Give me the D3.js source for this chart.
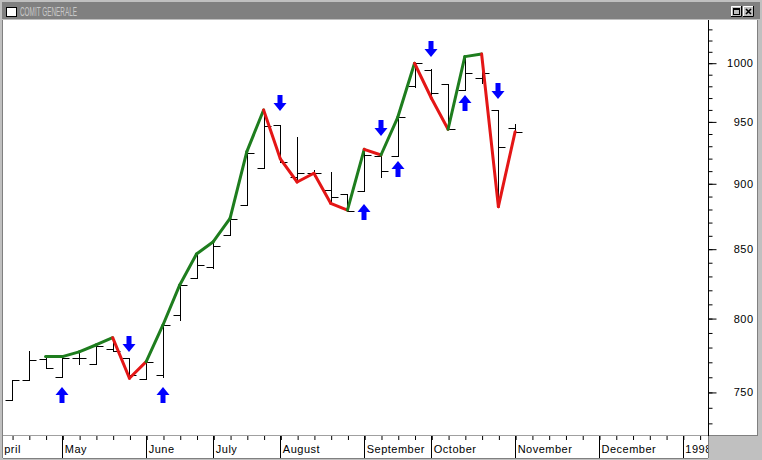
<!DOCTYPE html>
<html><head><meta charset="utf-8">
<script src="https://cdn.jsdelivr.net/npm/d3@7"></script>
<style>html,body{margin:0;padding:0;background:#c0c0c0;} svg{display:block;}</style>
</head><body><svg id="c" width="762" height="460"></svg>
<script>
// ---------- data ----------
const chartTitle = "COMIT GENERALE";
const opens  = [744.8,757.9,771.9,760.1,772.4,768.4,778.7,772.4,758.6,761.2,802.2,828.7,836.3,860.3,883.1,911.9,947.0,904.7,908.4,894.7,891.6,894.2,921.7,922.1,979.6,993.9,981.6,976.4,986.5,959.5,944.3];
const highs  = [757.9,777.5,773.5,773.5,776.7,781.4,786.4,772.4,770.1,795.2,823.5,846.1,855.2,872.9,925.2,959.5,947.0,937.4,910.5,909.2,891.6,927.1,922.5,953.4,999.5,994.3,981.6,1005.3,1008.8,959.5,947.6];
const lows   = [744.8,757.9,766.1,760.1,768.4,768.4,777.3,759.0,758.6,760.1,798.7,828.7,835.6,860.3,883.1,911.9,917.1,901.0,905.8,884.4,878.7,894.2,905.0,921.7,979.3,969.6,943.5,976.4,982.2,881.8,941.5];
const closes = [757.9,771.3,766.1,772.9,772.4,780.7,777.3,761.2,770.1,795.2,823.5,838.0,852.2,872.1,924.4,946.2,917.1,908.4,908.1,889.5,878.7,922.9,909.6,953.4,999.5,974.1,943.5,990.8,990.8,928.8,941.5];
const swingStart = 2;
const swing = [773.5,773.5,776.7,781.4,786.4,759.0,770.1,795.2,823.5,846.1,855.2,872.9,925.2,959.5,919.3,901.0,907.9,884.4,879.2,927.1,922.5,953.4,999.5,969.6,943.5,1005.3,1007.6,881.8,941.5];
// trend of the segment ending at swing point k (k >= 1)
const swingTrend = ["", "up","up","up","up","down","down","up","up","up","up","up","up","up","down","down","down","down","down","up","down","up","up","down","down","up","up","down","down"];
const arrowIdx = [3,9,21,23,27,7,16,22,25,29];
const arrowDir = ["up","up","up","up","up","down","down","down","down","down"];
const arrowVal = [753.3,753.3,883.9,917.9,972.2,776.7,958.9,938.0,1004.7,968.5];
const monthLabels = ["April","May","June","July","August","September","October","November","December","1998"];
const monthIdx = [-1,3,8,12,16,21,25,30,35,40];
const yMajor = [750,800,850,900,950,1000];
const yMinor = d3.range(730,1040,10);

// ---------- layout ----------
const svg = d3.select("#c");
const PL = 4, PR = 708, PT = 20, PB = 435;
const FONT = "Liberation Sans, Arial, sans-serif";
const x = d3.scaleLinear().domain([-0.48, 41.5]).range([PL, PR]);
const y = d3.scaleLog().domain([722.3, 1037.1]).range([PB, 21]);
const cx = i => Math.round(x(i)) + 0.5;
const cy = v => Math.round(y(v)) + 0.5;

// window chrome
svg.append("rect").attr("x",0).attr("y",0).attr("width",762).attr("height",460).attr("fill","#c0c0c0");
svg.append("rect").attr("x",2).attr("y",2).attr("width",758).attr("height",17).attr("fill","#808080");
svg.append("rect").attr("x",6.5).attr("y",7.5).attr("width",10).attr("height",9).attr("fill","#fff").attr("stroke","#000");
svg.append("text").attr("x",20).attr("y",16).attr("font-family",FONT)
  .attr("font-size",12).attr("fill","#c8c8c8").attr("textLength",57).attr("lengthAdjust","spacingAndGlyphs").text(chartTitle);
// buttons
[731,743].forEach((bx,k)=>{
  svg.append("rect").attr("x",bx).attr("y",6).attr("width",11).attr("height",11).attr("fill","#c0c0c0");
  svg.append("path").attr("d",`M${bx+0.5},${17}V6.5H${bx+11}`).attr("stroke","#fff").attr("fill","none");
  svg.append("path").attr("d",`M${bx},${16.5}H${bx+10.5}V6`).attr("stroke","#000").attr("fill","none");
  if(k===0){
    svg.append("rect").attr("x",bx+2.5).attr("y",8.5).attr("width",6).attr("height",6).attr("fill","none").attr("stroke","#000");
    svg.append("line").attr("x1",bx+2.5).attr("x2",bx+8.5).attr("y1",9.5).attr("y2",9.5).attr("stroke","#000");
  } else {
    svg.append("path").attr("d",`M${bx+3},9L${bx+8},14M${bx+8},9L${bx+3},14`).attr("stroke","#000").attr("stroke-width",1.6);
  }
});

// panels
svg.append("rect").attr("x",3).attr("y",PT).attr("width",754).attr("height",PB-PT+1).attr("fill","#fff");
svg.append("rect").attr("x",3).attr("y",436).attr("width",PR-3).attr("height",22).attr("fill","#fff");
svg.append("line").attr("x1",2.5).attr("x2",2.5).attr("y1",PT).attr("y2",458).attr("stroke","#808080");
svg.append("line").attr("x1",3).attr("x2",PR).attr("y1",435.5).attr("y2",435.5).attr("stroke","#a0a0a0");
svg.append("line").attr("x1",PR).attr("x2",757).attr("y1",435.5).attr("y2",435.5).attr("stroke","#808080");
svg.append("line").attr("x1",757.5).attr("x2",757.5).attr("y1",PT).attr("y2",436).attr("stroke","#808080");
svg.append("line").attr("x1",3).attr("x2",PR).attr("y1",458.5).attr("y2",458.5).attr("stroke","#808080");
svg.append("line").attr("x1",PR+0.5).attr("x2",PR+0.5).attr("y1",436).attr("y2",458).attr("stroke","#808080");

svg.append("defs").html(`<clipPath id="plot"><rect x="${PL}" y="${PT}" width="${PR-PL}" height="${PB-PT}"/></clipPath>
<clipPath id="xax"><rect x="${PL}" y="436" width="${PR-PL}" height="22"/></clipPath>`);

// right axis
const ra = svg.append("g").attr("transform",`translate(${PR+0.5},0)`);
ra.call(d3.axisRight(y).tickValues(yMinor).tickSize(4).tickFormat(""));
ra.append("g").call(d3.axisRight(y).tickValues(yMajor).tickSize(8).tickFormat(d3.format("d")));
ra.selectAll("path.domain").remove();
ra.selectAll(".tick line").attr("stroke","#000").attr("transform","translate(0,0.5)");
ra.selectAll(".tick text").attr("x",45).attr("text-anchor","end").attr("dy","0.36em")
  .attr("font-family",FONT).attr("font-size",11).attr("letter-spacing",0.5).attr("fill","#000");
svg.append("line").attr("x1",PR+0.5).attr("x2",PR+0.5).attr("y1",PT).attr("y2",PB+1).attr("stroke","#000");

// bottom axis
const ba = svg.append("g").attr("clip-path","url(#xax)");
const weekAxis = ba.append("g").attr("transform","translate(0.5,436)")
  .call(d3.axisBottom(x).tickValues(d3.range(0,42)).tickSize(4).tickFormat(""));
weekAxis.select("path.domain").remove();
weekAxis.selectAll(".tick line").attr("stroke","#000");
ba.selectAll("line.msep").data(monthIdx).join("line").attr("class","msep")
  .attr("x1",d=>cx(d)).attr("x2",d=>cx(d)).attr("y1",436).attr("y2",458).attr("stroke","#000");
const mlab = ba.selectAll("text.mlab").data(monthLabels).join("text").attr("class","mlab")
  .attr("x",(d,i)=>x(monthIdx[i])+2.5).attr("y",453)
  .attr("font-family",FONT).attr("font-size",11).attr("letter-spacing",0.5).attr("fill","#000")
  .text(d=>d);
// label of a month that began before the visible window: its first letter slides under the left edge
mlab.each(function(d,i){
  if (x(monthIdx[i]) < PL) {
    const w = this.getSubStringLength(0,1);
    d3.select(this).attr("x", PL - w + 0.2);
  }
});

// bars
const plot = svg.append("g").attr("clip-path","url(#plot)");
plot.selectAll("path.bar").data(opens).join("path").attr("class","bar")
  .attr("d",(o,i)=>{
    const X = cx(i);
    return `M${X-7},${cy(o)}H${X}M${X},${cy(highs[i])-0.5}V${cy(lows[i])+0.5}M${X},${cy(closes[i])}H${X+7}`;
  })
  .attr("fill","none").attr("stroke","#000").attr("stroke-width",1);

// swing line
const segs = d3.range(1, swing.length).map(k=>({k, trend: swingTrend[k]}));
const line = d3.line().x(d=>x(d[0])).y(d=>y(d[1]));
plot.selectAll("path.seg").data(segs).join("path").attr("class","seg")
  .attr("d",d=>line([[swingStart+d.k-1, swing[d.k-1]],[swingStart+d.k, swing[d.k]]]))
  .attr("fill","none").attr("stroke",d=>d.trend==="up"?"#1e7d1e":"#e41616")
  .attr("stroke-width",3).attr("stroke-linecap","round").attr("stroke-linejoin","round");

// arrows
plot.selectAll("path.arrow").data(arrowIdx).join("path").attr("class","arrow")
  .attr("d",(idx,j)=>{
    const ax = Math.round(x(idx)), ay = Math.round(y(arrowVal[j]));
    const s = arrowDir[j]==="down" ? -1 : 1; // tip at ay; body extends away from tip
    return `M${ax-2.5},${ay+s*16}h5v${-s*8}h4L${ax},${ay}L${ax-6.5},${ay+s*8}h4z`;
  })
  .attr("fill","#0000ff");
</script></body></html>
